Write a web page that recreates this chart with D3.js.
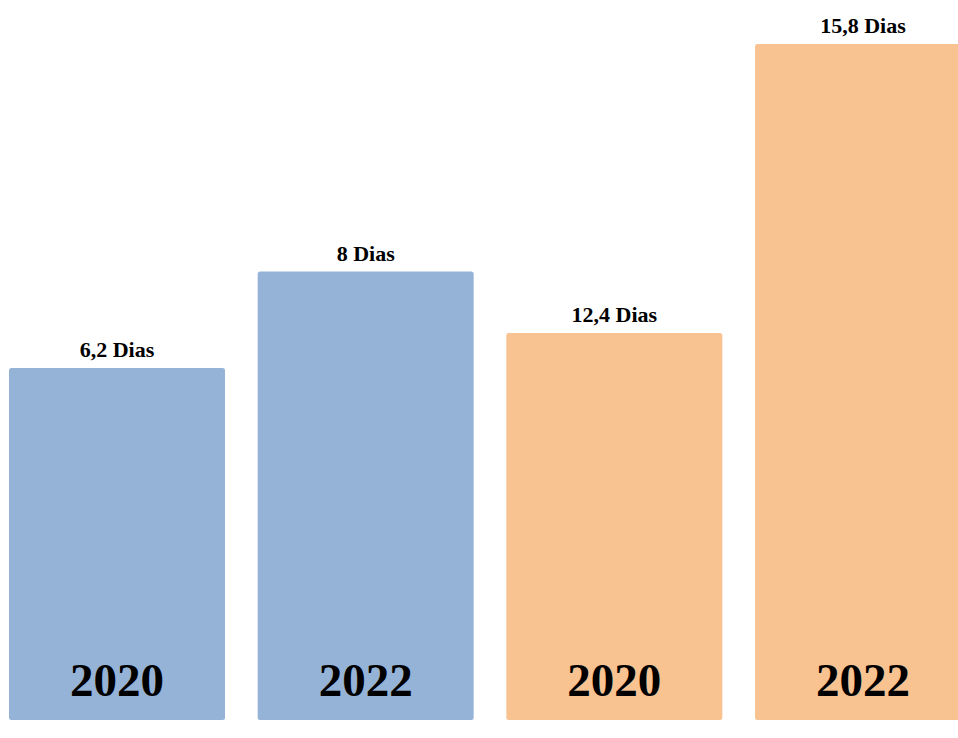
<!DOCTYPE html>
<html>
<head>
<meta charset="utf-8">
<script src="https://cdn.jsdelivr.net/npm/d3@7"></script>
<style>
  html, body { margin: 0; padding: 0; background: #ffffff; }
  svg { display: block; }
</style>
</head>
<body>
<svg id="chart" width="958" height="738"></svg>
<script>
// Data
const years = ["2020", "2022", "2020", "2022"];
const values = [6.2, 8, 12.4, 15.8];
const valueLabels = ["6,2 Dias", "8 Dias", "12,4 Dias", "15,8 Dias"];
const groups = ["A", "A", "B", "B"];
const groupColors = { A: "#95b3d7", B: "#f8c291" };

const svg = d3.select("#chart");
const bottom = 720;

const data = years.map((y, i) => ({ id: i, year: y, value: values[i], label: valueLabels[i], group: groups[i] }));

const x = d3.scaleBand()
  .domain(data.map(d => d.id))
  .range([9, 9 + 216 * 4 + 32.67 * 3])
  .paddingInner(32.67 / (216 + 32.67))
  .paddingOuter(0);

// Each group has its own value axis (as in the reference)
const yScales = {
  A: d3.scaleLinear().domain([-0.37, 8]).range([bottom, 271.5]),
  B: d3.scaleLinear().domain([7.85, 15.8]).range([bottom, 44])
};

const g = svg.append("g");

g.selectAll("rect.bar")
  .data(data)
  .join("rect")
  .attr("class", "bar")
  .attr("x", d => x(d.id))
  .attr("y", d => yScales[d.group](d.value))
  .attr("width", x.bandwidth())
  .attr("height", d => bottom - yScales[d.group](d.value))
  .attr("rx", 2.5)
  .attr("ry", 2.5)
  .attr("fill", d => groupColors[d.group]);

g.selectAll("text.val")
  .data(data)
  .join("text")
  .attr("class", "val")
  .attr("x", d => x(d.id) + x.bandwidth() / 2)
  .attr("y", d => yScales[d.group](d.value) - 11)
  .attr("text-anchor", "middle")
  .attr("font-family", "'Liberation Serif', 'Times New Roman', serif")
  .attr("font-weight", "bold")
  .attr("font-size", 22)
  .attr("fill", "#000")
  .text(d => d.label);

g.selectAll("text.year")
  .data(data)
  .join("text")
  .attr("class", "year")
  .attr("x", d => x(d.id) + x.bandwidth() / 2)
  .attr("y", 696)
  .attr("text-anchor", "middle")
  .attr("font-family", "'Liberation Serif', 'Times New Roman', serif")
  .attr("font-weight", "bold")
  .attr("font-size", 47)
  .attr("fill", "#000")
  .text(d => d.year);
</script>
</body>
</html>
